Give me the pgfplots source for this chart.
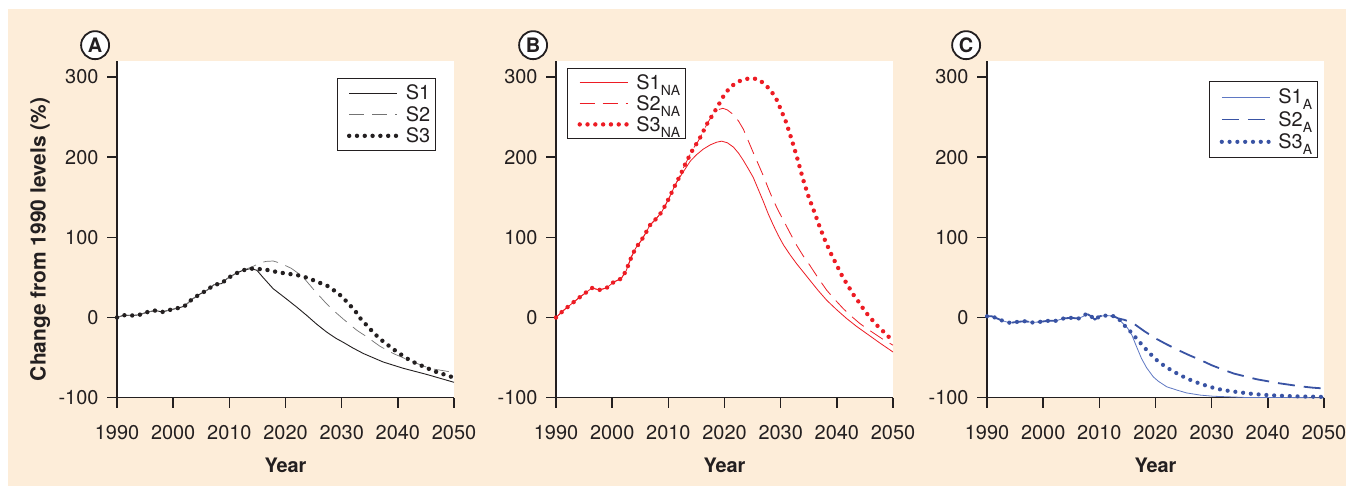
\documentclass[border=0pt]{standalone}
\usepackage{fontspec}
\setmainfont{TeX Gyre Heros}
\usepackage{pgfplots}
\pgfplotsset{compat=1.18}

\definecolor{peach}{RGB}{253,237,217}
\definecolor{ink}{RGB}{35,31,32}
\definecolor{nared}{RGB}{237,28,36}
\definecolor{ablue}{RGB}{57,83,164}
\definecolor{ablue2}{RGB}{95,120,195}

\newcommand\fs{\fontsize{20}{22}\selectfont}
\newcommand\sub[1]{\raisebox{-6bp}{\fontsize{14}{14}\selectfont #1}}

\tikzset{
  s1/.style={line width=0.9bp},
  s2/.style={line width=0.8bp, dash pattern=on 15bp off 8bp},
  s3/.style={line width=4.4bp, dash pattern=on 0bp off 7.8bp, line cap=round},
  tag/.style={circle, draw=ink, line width=1.8bp, fill=white, minimum size=28bp,
    inner sep=0pt, font=\fontsize{20}{20}\selectfont\bfseries, text=ink},
}

\pgfplotsset{
  panel/.style={
    scale only axis, width=337bp, height=336.7bp,
    xmin=1990, xmax=2050, ymin=-100, ymax=320,
    axis lines=left, axis line style={-, ink, line width=1.5bp},
    axis background/.style={fill=white},
    xtick={1990,2000,2010,2020,2030,2040,2050},
    xticklabels={1990,2000,2010,2020,2030,2040,2050},
    ytick={-100,0,100,200,300},
    yticklabels={-100,0,100,200,300},
    /pgf/number format/assume math mode=true,
    tick align=outside, major tick length=10bp,
    tick style={ink, line width=1.5bp},
    ticklabel style={font=\fs, text=ink},
    xticklabel style={yshift=-14bp},
    yticklabel style={xshift=-5bp},
    xlabel={Year},
    xlabel style={font=\fs\bfseries, text=ink, at={(axis description cs:0.5,-0.2)}, anchor=center},
    legend cell align=left,
    legend style={font=\fs, text=ink, draw=ink, line width=0.8bp, fill=white,
      row sep=2bp, inner xsep=4bp, inner ysep=5bp, nodes={inner sep=1.5bp}},
    legend image code/.code={\draw[##1] (0bp,0bp) -- (48bp,0bp); \path (-6bp,0bp) (53bp,0bp);},
    clip=false,
  },
}

\begin{document}
\begin{tikzpicture}[x=1bp,y=1bp]
\fill[white] (0,0) rectangle (1354,495);
\fill[peach] (8,9) rectangle (1346,486);

% Panel A
\begin{axis}[panel, at={(117bp,97.3bp)}, anchor=south west,
  ylabel={Change from 1990 levels (\%)},
  ylabel style={font=\fontsize{21}{21}\selectfont\bfseries, text=ink,
    at={(axis description cs:-0.228,0.47)}, anchor=center},
  legend style={at={(axis description cs:0.947,0.9495)}, anchor=north east}]
\addplot[ink, s1] coordinates {(1990,0)(1991.2,2.9)(1992.6,2.5)(1994,3.4)(1995.3,6.6)(1996.8,8.7)(1998.1,7.0)(1999.4,9.5)(2000.7,11.5)(2002,14.1)(2003.3,22.4)(2004.7,29)(2006,34)(2007.3,41)(2008.6,42.3)(2009.6,48.5)(2011,54.4)(2012.4,58.9)(2013.8,61)
 (2014.9,59)(2016,50)(2017.8,36)(2020.2,23)(2022,13)(2023.8,2.5)(2025.5,-8)(2027.3,-18)(2029,-26)(2030.3,-31)(2032,-38)(2033.9,-45)(2037.4,-55.5)(2041,-63.4)(2045.1,-70.9)(2050,-80.8)};
\addlegendentry{S1}
\addplot[black!55, s2, line width=0.7bp] coordinates {(1990,0)(1991.2,2.9)(1992.6,2.5)(1994,3.4)(1995.3,6.6)(1996.8,8.7)(1998.1,7.0)(1999.4,9.5)(2000.7,11.5)(2002,14.1)(2003.3,22.4)(2004.7,29)(2006,34)(2007.3,41)(2008.6,42.3)(2009.6,48.5)(2011,54.4)(2012.4,58.9)
 (2014.3,64)(2015.3,67.5)(2016.5,70)(2017.8,70.5)(2019,68)(2021,61.5)(2023,51.5)(2025,35)(2027,19.5)(2028.5,9)(2030.3,-2)(2032.7,-15.9)(2034.5,-24.2)(2036.8,-35.8)(2039.2,-44.9)(2042.2,-54)(2045.7,-63.5)(2050,-68.5)};
\addlegendentry{S2}
\addplot[ink, s3] coordinates {(1990,0)(1991.2,2.9)(1992.6,2.5)(1994,3.4)(1995.3,6.6)(1996.8,8.7)(1998.1,7.0)(1999.4,9.5)(2000.7,11.5)(2002,14.1)(2003.3,22.4)(2004.7,29)(2006,34)(2007.3,41)(2008.6,42.3)(2009.6,48.5)(2011,54.4)(2012.4,58.9)(2013.8,61)
 (2015,60.6)(2016.5,59.7)(2017.8,57.7)(2019.1,56)(2020.6,54.4)(2022,53.1)(2023.4,50.6)(2024.7,47.3)(2026,43.5)(2027.3,40.2)(2028.6,34)(2030,26.5)(2031.2,17.4)(2032.4,8.3)(2033.4,-1.7)(2034.6,-10.8)(2035.8,-19.9)(2037.1,-28.2)(2038.5,-35.8)(2039.7,-42)(2041,-48.2)(2042.3,-54)(2043.6,-58.2)(2045,-62.3)(2046.3,-66.5)(2047.7,-69.8)(2050,-75)};
\addlegendentry{S3}
\node[tag] at (axis description cs:-0.065,1.047) {A};
\end{axis}

% Panel B
\begin{axis}[panel, at={(556bp,97.3bp)}, anchor=south west,
  legend style={at={(axis description cs:0.033,0.979)}, anchor=north west, row sep=1.5bp, inner ysep=4.5bp}]
\addplot[nared, s1, line width=0.8bp] coordinates {(1990,0)(1991.3,8.7)(1992.6,16.1)(1993.9,23.6)(1995,29.4)(1996.4,36.9)(1997.7,34.4)(1999,36.9)(2000.3,44.4)(2001.6,48.5)(2002.5,58.5)(2003,68)(2003.5,76.8)(2004.2,86.7)(2005.2,96.3)(2006,105.8)(2006.7,115)(2007.8,123)(2008.8,131.5)(2009.6,141.9)(2010.2,150)(2010.9,160.6)(2011.5,169)
 (2012.5,180)(2013.9,195)(2015,203)(2016.2,210)(2017.5,215.5)(2018.6,218.7)(2019.5,220)(2020.5,218)(2021.6,212.5)(2022.5,205)(2023.35,196)(2024.2,186)(2025.1,175)(2026,160)(2026.9,145)(2027.8,129)(2028.7,115)(2029.6,102)(2030.5,90.5)(2031.7,78)(2032.85,67)(2034,57)(2035.2,46.5)(2036.7,33.5)(2038.2,21.5)(2040,9.5)(2041.75,-1.3)(2043.5,-11)(2045.3,-20)(2047.6,-31.5)(2050,-43)};
\addlegendentry{S1\sub{NA}}
\addplot[nared, s2] coordinates {(1990,0)(1991.3,8.7)(1992.6,16.1)(1993.9,23.6)(1995,29.4)(1996.4,36.9)(1997.7,34.4)(1999,36.9)(2000.3,44.4)(2001.6,48.5)(2002.5,58.5)(2003,68)(2003.5,76.8)(2004.2,86.7)(2005.2,96.3)(2006,105.8)(2006.7,115)(2007.8,123)(2008.8,131.5)(2009.6,141.9)(2010.2,150)(2010.9,160.6)(2011.5,169)
 (2012.3,180)(2012.8,188.4)(2013.4,196.7)(2014,205)(2014.6,212.5)(2015.2,218.7)(2015.7,225)(2016.2,232)(2017,243)(2018,254)(2019,259.5)(2019.7,261)(2020.5,259)(2021.6,253)(2022.5,245)(2023.35,235)(2024.2,221)(2025.1,206)(2026,191.5)(2026.9,177)(2027.8,161)(2028.7,146)(2029.6,133)(2030.5,121)(2031.7,105)(2032.85,90)(2034,77)(2035.2,65)(2036.7,49)(2038.2,34)(2039.7,22)(2041.15,11)(2042.6,1.5)(2044.1,-7.5)(2045.6,-15)(2047.1,-22)(2048.5,-28.5)(2050,-34.5)};
\addlegendentry{S2\sub{NA}}
\addplot[nared, s3] coordinates {(1990,0)(1991.3,8.7)(1992.6,16.1)(1993.9,23.6)(1995,29.4)(1996.4,36.9)(1997.7,34.4)(1999,36.9)(2000.3,44.4)(2001.6,48.5)(2002.5,58.5)(2003,68)(2003.5,76.8)(2004.2,86.7)(2005.2,96.3)(2006,105.8)(2006.7,115)(2007.8,123)(2008.8,131.5)(2009.6,141.9)(2010.2,150)(2010.9,160.6)(2011.5,169)
 (2012.3,180)(2012.8,188.4)(2013.4,196.7)(2014,205)(2014.6,212.5)(2015.2,218.7)(2015.7,225)(2016.2,232)(2017,243)(2018,254)(2019,266)(2020,278.5)(2021,287)(2022,292.5)(2023,296)(2024.5,298.5)(2025.9,297.5)(2027.15,291.4)(2028.3,282.5)(2029.2,273)(2030,260)(2031,243)(2032,221)(2033,197.5)(2034,172)(2035,150)(2036,131.5)(2037,112)(2038,94.5)(2039,79)(2040,65)(2041,51)(2042,39.5)(2043,28)(2044,18.4)(2045,7.8)(2046,-0.5)(2047,-8.8)(2048,-15.5)(2049,-22.7)(2050,-28.5)};
\addlegendentry{S3\sub{NA}}
\node[tag] at (axis description cs:-0.068,1.047) {B};
\end{axis}

% Panel C
\begin{axis}[panel, at={(987bp,97.3bp)}, anchor=south west,
  legend style={at={(axis description cs:0.982,0.9406)}, anchor=north east, row sep=3bp, inner ysep=6bp}]
\addplot[ablue2, s1, line width=0.8bp] coordinates {(1990,1.6)(1990.8,1.6)(1991.4,0)(1992.8,-4.1)(1994.1,-6.7)(1995.4,-5.4)(1996.8,-4.6)(1998.1,-6.2)(1999.4,-5.4)(2000.9,-4.1)(2002.3,-4.1)(2003.6,-1.2)(2004.9,-0.4)(2006.3,-1.2)(2007.2,1.7)(2007.7,4.9)(2008.5,1.7)(2009.2,-2.5)(2010.1,1.7)(2011.3,2.5)(2012.5,1.7)(2013.4,-1.2)
 (2014,-6)(2015,-13)(2015.8,-22)(2016.6,-36)(2017.5,-51)(2018.4,-62.5)(2019.6,-74)(2020.5,-79.5)(2022,-86.4)(2023.8,-90.5)(2025.5,-94)(2028,-96.8)(2030.3,-98.2)(2036,-99.7)(2050,-100)};
\addlegendentry{S1\sub{A}}
\addplot[ablue, s2, line width=1.8bp, dash pattern=on 17bp off 9bp] coordinates {(1990,1.6)(1990.8,1.6)(1991.4,0)(1992.8,-4.1)(1994.1,-6.7)(1995.4,-5.4)(1996.8,-4.6)(1998.1,-6.2)(1999.4,-5.4)(2000.9,-4.1)(2002.3,-4.1)(2003.6,-1.2)(2004.9,-0.4)(2006.3,-1.2)(2007.2,1.7)(2007.7,4.9)(2008.5,1.7)(2009.2,-2.5)(2010.1,1.7)(2011.3,2.5)(2012.5,1.7)(2013.4,-1.2)
 (2014.5,-3)(2016,-7)(2018,-17)(2020,-26)(2022,-33.5)(2024,-40.5)(2026,-47)(2028,-53)(2030,-59.5)(2032,-65)(2034,-70)(2036,-73.5)(2038,-77)(2040,-79.5)(2042,-82)(2044,-84)(2046,-86)(2048,-87.5)(2050,-88.5)};
\addlegendentry{S2\sub{A}}
\addplot[ablue, s3, line width=4.2bp] coordinates {(1990,1.6)(1990.8,1.6)(1991.4,0)(1992.8,-4.1)(1994.1,-6.7)(1995.4,-5.4)(1996.8,-4.6)(1998.1,-6.2)(1999.4,-5.4)(2000.9,-4.1)(2002.3,-4.1)(2003.6,-1.2)(2004.9,-0.4)(2006.3,-1.2)(2007.2,1.7)(2007.7,4.9)(2008.5,1.7)(2009.2,-2.5)(2010.1,1.7)(2011.3,2.5)(2012.5,1.7)(2013.4,-1.2)
 (2014.2,-8)(2015.4,-16.5)(2016.6,-26)(2017.8,-35.7)(2019,-44.9)(2020.2,-53)(2021.6,-60.5)(2023,-66.5)(2024.4,-72)(2025.7,-76.3)(2027,-80.2)(2028.4,-83.5)(2029.7,-86.5)(2031,-89)(2032.4,-90.8)(2033.7,-92.2)(2035,-93.3)(2036.4,-94.6)(2037.7,-95.6)(2040,-96.8)(2043,-97.8)(2046,-98.5)(2050,-99)};
\addlegendentry{S3\sub{A}}
\node[tag] at (axis description cs:-0.062,1.047) {C};
\end{axis}
\end{tikzpicture}
\end{document}
